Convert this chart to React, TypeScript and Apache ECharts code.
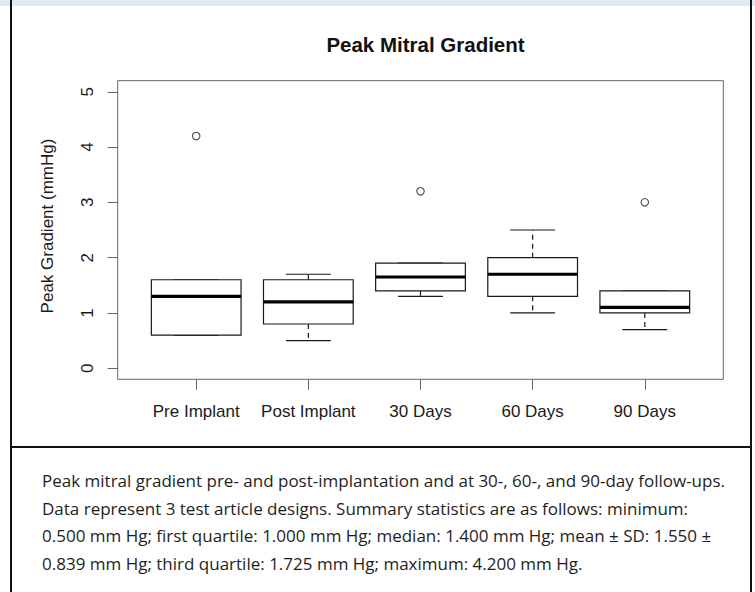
import React, { useEffect, useRef } from "react";
import * as echarts from "echarts";

// ---- data ----
const categories = ["Pre Implant", "Post Implant", "30 Days", "60 Days", "90 Days"];
const positions = [1, 2, 3, 4, 5];
const whiskerLow = [0.6, 0.5, 1.3, 1.0, 0.7];
const quartile1 = [0.6, 0.8, 1.4, 1.3, 1.0];
const medians = [1.3, 1.2, 1.65, 1.7, 1.1];
const quartile3 = [1.6, 1.6, 1.9, 2.0, 1.4];
const whiskerHigh = [1.6, 1.7, 1.9, 2.5, 1.4];
const outlierPos = [1, 3, 5];
const outlierVal = [4.2, 3.2, 3.0];
const yTicks = [0, 1, 2, 3, 4, 5];

const captionLines = [
  "Peak mitral gradient pre- and post-implantation and at 30-, 60-, and 90-day follow-ups.",
  "Data represent 3 test article designs. Summary statistics are as follows: minimum:",
  "0.500 mm Hg; first quartile: 1.000 mm Hg; median: 1.400 mm Hg; mean \u00b1 SD: 1.550 \u00b1",
  "0.839 mm Hg; third quartile: 1.725 mm Hg; maximum: 4.200 mm Hg.",
];

const FONT = "'Liberation Sans', Arial, Helvetica, sans-serif";
const INK = "#1a1a1a";
const FRAME = "#666";
const BOX_HALF = 0.4;
const CAP_HALF = 0.2;

export default function App() {
  const ref = useRef<HTMLDivElement>(null);

  useEffect(() => {
    document.body.style.margin = "0";
    if (!ref.current) return;
    const chart = echarts.init(ref.current, null, { renderer: "svg" });

    const boxData = positions.map((p, i) => [
      p,
      whiskerLow[i],
      quartile1[i],
      medians[i],
      quartile3[i],
      whiskerHigh[i],
    ]);
    const outlierData = outlierPos.map((p, i) => [p, outlierVal[i]]);

    const option: any = {
      animation: false,
      backgroundColor: "transparent",
      title: {
        text: "Peak Mitral Gradient",
        left: 420.5,
        top: 28.5,
        textAlign: "center",
        textStyle: { fontFamily: FONT, fontSize: 20.5, fontWeight: "bold", color: "#111" },
      },
      grid: {
        left: 117.7,
        top: 80.7,
        width: 605.6,
        height: 298.6,
        show: true,
        borderColor: FRAME,
        borderWidth: 1,
        backgroundColor: "transparent",
      },
      xAxis: {
        type: "value",
        min: 0.3,
        max: 5.7,
        axisLine: { show: false, onZero: false },
        splitLine: { show: false },
        axisTick: {
          show: true,
          customValues: positions,
          length: 10.5,
          lineStyle: { color: FRAME, width: 1 },
        },
        axisLabel: {
          customValues: positions,
          margin: 24,
          formatter: (v: number) => categories[Math.round(v) - 1] ?? "",
          fontFamily: FONT,
          fontSize: 17,
          color: "#1a1a1a",
        },
      },
      yAxis: {
        type: "value",
        min: -0.2,
        max: 5.2,
        axisLine: { show: false, onZero: false },
        splitLine: { show: false },
        axisTick: {
          show: true,
          customValues: yTicks,
          length: 10,
          lineStyle: { color: FRAME, width: 1 },
        },
        axisLabel: {
          customValues: yTicks,
          rotate: 90,
          margin: 21.5,
          fontFamily: FONT,
          fontSize: 17,
          color: "#1a1a1a",
        },
      },
      graphic: [
        {
          type: "text",
          x: 47,
          y: 226,
          rotation: Math.PI / 2,
          style: {
            text: "Peak Gradient (mmHg)",
            fontFamily: FONT,
            fontSize: 17,
            fill: "#1a1a1a",
            textAlign: "center",
            textVerticalAlign: "middle",
          },
        },
      ],
      series: [
        {
          type: "custom",
          name: "box",
          data: boxData,
          encode: { x: 0, y: [1, 2, 3, 4, 5] },
          renderItem: (params: any, api: any) => {
            const x = api.value(0);
            const lo = api.value(1);
            const q1 = api.value(2);
            const med = api.value(3);
            const q3 = api.value(4);
            const hi = api.value(5);
            const pLo = api.coord([x, lo]);
            const pQ1 = api.coord([x, q1]);
            const pMed = api.coord([x, med]);
            const pQ3 = api.coord([x, q3]);
            const pHi = api.coord([x, hi]);
            const hb = api.size([BOX_HALF, 0])[0];
            const hc = api.size([CAP_HALF, 0])[0];
            const cx = pMed[0];
            const thin = { stroke: INK, lineWidth: 1.2, fill: null };
            const dashed = { stroke: INK, lineWidth: 1.2, lineDash: [5, 4] };
            return {
              type: "group",
              children: [
                { type: "line", shape: { x1: cx, y1: pQ3[1], x2: cx, y2: pHi[1] }, style: dashed },
                { type: "line", shape: { x1: cx, y1: pQ1[1], x2: cx, y2: pLo[1] }, style: dashed },
                { type: "line", shape: { x1: cx - hc, y1: pHi[1], x2: cx + hc, y2: pHi[1] }, style: thin },
                { type: "line", shape: { x1: cx - hc, y1: pLo[1], x2: cx + hc, y2: pLo[1] }, style: thin },
                {
                  type: "rect",
                  shape: { x: cx - hb, y: pQ3[1], width: hb * 2, height: pQ1[1] - pQ3[1] },
                  style: { fill: "#fff", stroke: INK, lineWidth: 1.2 },
                },
                {
                  type: "line",
                  shape: { x1: cx - hb, y1: pMed[1], x2: cx + hb, y2: pMed[1] },
                  style: { stroke: "#000", lineWidth: 3.2 },
                },
              ],
            };
          },
          z: 2,
        },
        {
          type: "scatter",
          name: "outliers",
          data: outlierData,
          symbol: "circle",
          symbolSize: 7.5,
          itemStyle: { color: "#fff", borderColor: INK, borderWidth: 1.1 },
          z: 3,
        },
      ],
    };

    chart.setOption(option);
    return () => chart.dispose();
  }, []);

  return (
    <div
      style={{
        position: "relative",
        width: 755,
        height: 592,
        overflow: "hidden",
        background: "#fff",
      }}
    >
      <div style={{ position: "absolute", left: 0, top: 0, width: 755, height: 6, background: "#dde9f6" }} />
      <div ref={ref} style={{ position: "absolute", left: 0, top: 0, width: 755, height: 446 }} />
      <div style={{ position: "absolute", left: 10, top: 0, width: 2, height: 592, background: "#111" }} />
      <div style={{ position: "absolute", left: 750, top: 0, width: 2, height: 592, background: "#111" }} />
      <div style={{ position: "absolute", left: 10, top: 446, width: 742, height: 2, background: "#111" }} />
      <div
        style={{
          position: "absolute",
          left: 42,
          top: 467,
          width: 705,
          fontFamily: "'Open Sans', sans-serif",
          fontSize: 17,
          lineHeight: "27.5px",
          color: "#1e1e1e",
          whiteSpace: "nowrap",
        }}
      >
        {captionLines.map((l, i) => (
          <div key={i}>{l}</div>
        ))}
      </div>
    </div>
  );
}
